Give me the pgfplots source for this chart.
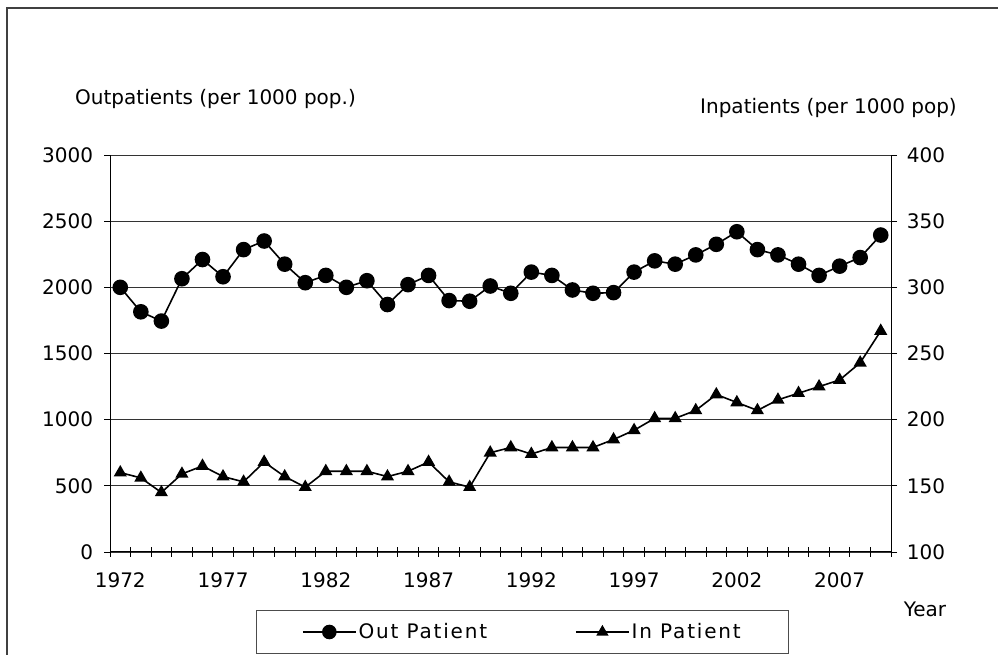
\documentclass[border=0pt]{standalone}
\usepackage{fontspec}
\setmainfont{DejaVu Sans}
\usepackage{pgfplots}
\pgfplotsset{compat=1.18}
\pgfplotstableread{
year out
1972 2000
1973 1815
1974 1745
1975 2065
1976 2210
1977 2080
1978 2285
1979 2350
1980 2175
1981 2035
1982 2090
1983 2000
1984 2050
1985 1870
1986 2020
1987 2090
1988 1900
1989 1895
1990 2010
1991 1955
1992 2115
1993 2090
1994 1980
1995 1955
1996 1960
1997 2115
1998 2200
1999 2175
2000 2245
2001 2325
2002 2420
2003 2285
2004 2245
2005 2175
2006 2090
2007 2160
2008 2225
2009 2395
}\outdata
\pgfplotstableread{
year in
1972 160
1973 156
1974 145
1975 159
1976 165
1977 157
1978 153
1979 168
1980 157
1981 149
1982 161
1983 161
1984 161
1985 157
1986 161
1987 168
1988 153
1989 149
1990 175
1991 179
1992 174
1993 179
1994 179
1995 179
1996 185
1997 192
1998 201
1999 201
2000 207
2001 219
2002 213
2003 207
2004 215
2005 220
2006 225
2007 230
2008 243
2009 267
}\indata
\begin{document}
\fontsize{20}{24}\selectfont
\begin{tikzpicture}[x=1pt,y=1pt]
\useasboundingbox (0,0) rectangle (998,655);
\draw[black!75, line width=1.5pt] (7,-5) -- (7,647) -- (1005,647);
\pgfplotsset{
  common/.style={
    scale only axis, width=781pt, height=397pt,
    at={(110pt,103pt)}, anchor=south west,
    xmin=1971.5, xmax=2009.5,
    /pgf/number format/assume math mode=true,
    /pgf/number format/set thousands separator={},
    ticklabel style={font=\fontsize{20}{24}\selectfont},
    tick align=outside, major tick length=6pt,
    tick style={black, line width=0.8pt},
    axis line style={black, line width=1pt},
    clip=false,
  }
}
\begin{axis}[common,
  axis x line*=bottom, axis y line*=left,
  ymin=0, ymax=3000, ytick={0,500,...,3000},
  xtick={1972,1977,...,2007},
  minor xtick={1971.5,1972.5,...,2009.5},
  major x tick style={draw=none},
  minor x tick style={black, line width=0.8pt, yshift=5pt},
  minor tick length=10pt,
  ymajorgrids, grid style={black!80, line width=0.8pt},
  xticklabel style={yshift=-8pt},
  yticklabel style={xshift=-4pt},
]
\addplot[black, line width=1.6pt, mark=*, mark size=7pt, mark options={solid}] table[x=year, y=out] {\outdata};
\end{axis}
\begin{axis}[common,
  axis x line=none, axis y line*=right,
  ymin=100, ymax=400, ytick={100,150,...,400},
  yticklabel style={xshift=3pt},
  legend columns=2,
  legend style={at={(0.528,-0.2015)}, anchor=center, draw=black!70, line width=0.8pt,
    font=\fontsize{20}{24}\selectfont\addfontfeature{LetterSpace=9},
    inner xsep=46pt, inner ysep=10pt,
    /tikz/every even column/.append style={column sep=86pt}},
  legend image code/.code={\draw[mark repeat=2, mark phase=2, #1] plot coordinates {(0pt,0pt) (26.5pt,0pt) (53pt,0pt)};},
]
\addplot[black, line width=1.6pt, mark=triangle*, mark size=6pt, mark options={solid}, forget plot] table[x=year, y=in] {\indata};
\addlegendimage{black, line width=1.6pt, mark=*, mark size=6.5pt}
\addlegendentry{Out Patient}
\addlegendimage{black, line width=1.6pt, mark=triangle*, mark size=5.5pt}
\addlegendentry{In Patient}
\end{axis}
\node[anchor=base west, inner sep=0pt] at (75,550) {Outpatients (per 1000 pop.)};
\node[anchor=base east, inner sep=0pt] at (957,541) {Inpatients (per 1000 pop)};
\node[anchor=center, inner sep=0pt] at (925,46) {Year};
\end{tikzpicture}
\end{document}
